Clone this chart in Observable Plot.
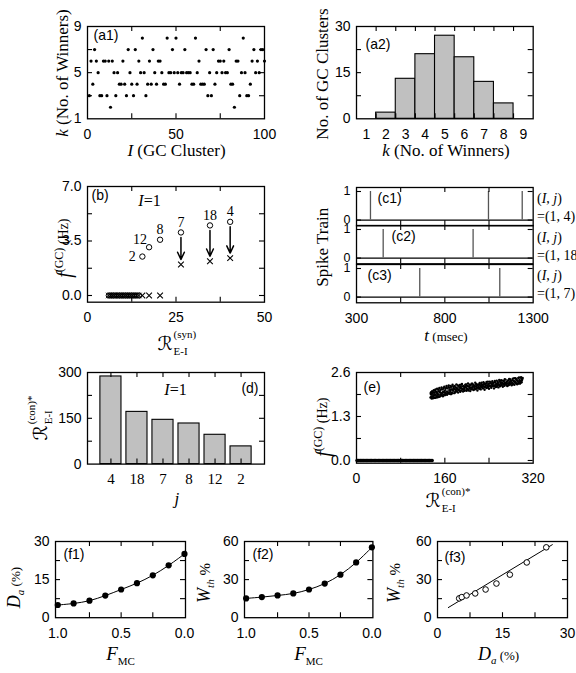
<!DOCTYPE html>
<html><head><meta charset="utf-8">
<script src="https://cdn.jsdelivr.net/npm/d3@7"></script>
<script src="https://cdn.jsdelivr.net/npm/@observablehq/plot@0.6"></script>
<style>
body{margin:0;background:#fff}
#fig{position:relative;width:576px;height:673px;overflow:hidden;background:#fff}
#fig svg{position:absolute;overflow:visible}
</style></head><body><div id="fig"></div>
<script>
// ---------- data ----------
// (a1) number of winners k for each GC cluster I = 1..100
const a1K = [3,6,4,7,6,5,3,3,6,6, 3,6,2,6,5,3,5,4,4,6, 4,3,7,5,4,3,7,4,6,5,
             8,5,3,4,6,4,7,5,4,6, 6,5,4,4,8,5,5,7,5,8, 5,4,5,5,7,5,5,5,4,4,
             8,5,6,4,4,4,7,3,5,3, 7,4,5,6,6,5,6,5,5,7, 4,4,2,6,6,3,5,8,5,3,
             3,4,6,7,5,6,5,7,7,6];
// (a2) histogram
const a2K = [1,2,3,4,5,6,7,8,9];
const a2N = [0,2,13,21,27,20,12,5,0];
// (b)
const bWinJ = ["2","12","8","7","18","4"];
const bWinR = [15.5,17.4,20.5,26.4,34.6,40.3];
const bWinBefore = [2.5,3.1,3.58,4.05,4.5,4.73];
const bWinAfter = [0,0,0,1.99,2.2,2.4];
const bLoserR = [6.0,6.5,7.1,7.6,8.2,8.8,9.3,9.9,10.5,11.0,11.6,12.2,12.7,13.3,13.9,14.5];
// (c) spike times (msec)
const c1Spikes = [379,1047,1238];
const c2Spikes = [451,960];
const c3Spikes = [658,1111];
const cJ = ["4","18","7"];
// (d)
const dJ = ["4","18","7","8","12","2"];
const dR = [287,171,145,133,96,58];
// (e)
const eZeroR = [1,2.5,4,6,7.5,9,11,12.5,14,16,18,19.5,21,23,25,26.5,28,30,32,33.5,35,37,39,40.5,42,44,46,47.5,49,51,53,54.5,56,58,60,61.5,63,65,67,68.5,70,72,74,75.5,77,79,81,82.5,84,86,88,89.5,91,93,95,96.5,98,100,102,103.5,105,107,109,110.5,112,114,116,117.5,119,121,123,124.5,126,128,130,131.5,133,135,137];
const eCloud = [[134,1.86],[135,1.95],[135,2.02],[136,1.83],[137,1.9],[137,2.05],[138,1.97],[139,1.88],[140,2.08],[140,1.93],
[141,2.0],[142,1.85],[143,2.1],[143,1.95],[144,2.03],[145,1.9],[146,2.12],[147,1.98],[147,1.87],[148,2.05],
[149,1.94],[150,2.14],[151,2.01],[151,1.89],[152,2.08],[153,1.96],[154,2.16],[155,2.0],[155,1.92],[156,2.1],
[157,2.03],[158,1.95],[159,2.18],[160,2.06],[160,1.93],[161,2.12],[162,1.99],[163,2.2],[164,2.04],[164,1.94],
[165,2.13],[166,2.01],[167,2.22],[168,2.08],[168,1.97],[169,2.15],[170,2.03],[171,1.96],[172,2.18],[173,2.1],
[173,2.0],[174,2.24],[175,2.06],[176,2.14],[177,1.99],[178,2.2],[179,2.09],[179,2.02],[180,2.16],[181,2.25],
[182,2.05],[183,2.12],[184,2.01],[185,2.19],[186,2.08],[187,2.23],[188,2.13],[188,2.03],[189,2.17],[190,2.07],
[191,2.26],[192,2.11],[193,2.04],[194,2.2],[195,2.14],[196,2.08],[197,2.24],[198,2.16],[199,2.06],[200,2.21],
[201,2.12],[202,2.28],[203,2.09],[204,2.18],[205,2.13],[206,2.05],[207,2.23],[208,2.16],[209,2.1],[210,2.27],
[211,2.19],[212,2.08],[213,2.22],[214,2.14],[215,2.3],[216,2.11],[217,2.2],[218,2.15],[219,2.07],[220,2.25],
[221,2.18],[222,2.12],[223,2.29],[224,2.21],[225,2.1],[226,2.26],[227,2.16],[228,2.23],[229,2.13],[230,2.31],
[231,2.19],[232,2.09],[233,2.25],[234,2.17],[235,2.28],[236,2.14],[237,2.22],[238,2.33],[239,2.18],[240,2.12],
[241,2.27],[242,2.2],[243,2.3],[244,2.15],[245,2.24],[246,2.34],[247,2.19],[248,2.27],[249,2.13],[250,2.22],
[251,2.31],[252,2.17],[253,2.26],[254,2.36],[255,2.21],[256,2.29],[257,2.16],[258,2.24],[259,2.33],[260,2.19],
[261,2.28],[262,2.37],[263,2.22],[264,2.3],[265,2.18],[266,2.26],[267,2.35],[268,2.21],[269,2.29],[270,2.39],
[271,2.24],[272,2.32],[273,2.2],[274,2.28],[275,2.37],[276,2.23],[277,2.31],[278,2.4],[279,2.26],[280,2.34],
[281,2.22],[282,2.3],[283,2.42],[284,2.27],[285,2.35],[286,2.24],[287,2.32],[288,2.43],[289,2.28],[290,2.37],
[291,2.25],[292,2.33],[293,2.44],[294,2.3],[295,2.38],[296,2.27],[297,2.35],[298,2.46],[299,2.31],[300,2.4]];
const eCloud2 = [[134.5,1.98],[135.5,1.88],[136.5,2.0],[138.5,1.84],[139.5,2.02],[141.5,1.92],[142.5,2.06],[144.5,1.86],[145.5,2.0],[146.5,1.94],
[148.5,2.1],[149.5,1.88],[150.5,2.04],[152.5,1.92],[153.5,2.11],[154.5,1.97],[156.5,1.9],[157.5,2.14],[158.5,2.02],[160.5,2.0],
[161.5,1.96],[162.5,2.15],[165.5,1.98],[166.5,2.17],[167.5,2.0],[169.5,2.07],[170.5,2.2],[171.5,2.1],[172.5,1.98],[174.5,2.09],
[175.5,2.19],[177.5,2.12],[178.5,2.02],[180.5,2.08],[181.5,2.14],[183.5,2.22],[184.5,2.09],[186.5,2.16],[187.5,2.05],[189.5,2.24],
[190.5,2.13],[192.5,2.19],[193.5,2.1],[195.5,2.06],[196.5,2.18],[198.5,2.25],[199.5,2.12],[201.5,2.2],[202.5,2.07],[204.5,2.24],
[205.5,2.16],[207.5,2.11],[208.5,2.27],[210.5,2.15],[211.5,2.23],[213.5,2.1],[214.5,2.19],[216.5,2.26],[217.5,2.13],[219.5,2.22],
[220.5,2.16],[222.5,2.25],[223.5,2.14],[225.5,2.2],[226.5,2.3],[228.5,2.18],[229.5,2.24],[231.5,2.28],[232.5,2.16],[234.5,2.22],
[235.5,2.32],[237.5,2.17],[238.5,2.26],[240.5,2.21],[241.5,2.33],[243.5,2.19],[244.5,2.28],[246.5,2.23],[247.5,2.3],[249.5,2.2],
[250.5,2.35],[252.5,2.24],[253.5,2.18],[255.5,2.32],[256.5,2.25],[258.5,2.38],[259.5,2.22],[261.5,2.31],[262.5,2.25],[264.5,2.36],
[265.5,2.28],[267.5,2.24],[268.5,2.4],[270.5,2.3],[271.5,2.26],[273.5,2.35],[274.5,2.22],[276.5,2.41],[277.5,2.29],[279.5,2.36],
[280.5,2.28],[282.5,2.38],[283.5,2.25],[285.5,2.43],[286.5,2.33],[288.5,2.29],[289.5,2.4],[291.5,2.36],[292.5,2.27],[294.5,2.45],
[295.5,2.34],[297.5,2.3],[298.5,2.42],[299.5,2.36],[301,2.44]];
// (f)
const fF = [1.0,0.875,0.75,0.625,0.5,0.375,0.25,0.125,0.0];
const fDa = [5.0,5.6,6.7,8.7,11.1,13.6,16.7,20.6,25.1];
const fWth = [15.2,16.2,17.5,19.1,22.2,26.9,33.9,43.5,55.4];
const f3FitDa = [2.5,26.5];
const f3FitW = [8,57.5];

// ---------- helpers ----------
const fig = document.getElementById("fig");
const sans = '"Liberation Sans", Arial, sans-serif';
const serif = '"Liberation Serif", "Times New Roman", serif';

function panel({L, T, W, H, ml=45, mr=15, mt=12, mb=30, x, y, marks, fs = 14}) {
  const svg = Plot.plot({
    width: W + ml + mr, height: H + mt + mb,
    marginLeft: ml, marginRight: mr, marginTop: mt, marginBottom: mb,
    x: {label: null, ...x}, y: {label: null, ...y},
    style: {fontFamily: sans, fontSize: fs + "px", background: "transparent", color: "#000", overflow: "visible"},
    marks: marks.filter(Boolean)
  });
  svg.style.left = (L - ml) + "px";
  svg.style.top = (T - mt) + "px";
  fig.append(svg);
}
function ticksIn(xt, yt, W, H, len = 5) {
  const s = {stroke: "#000", strokeWidth: 1.1};
  const m = [];
  if (xt) m.push(Plot.ruleX(xt, {x: d => d, insetTop: H - len, ...s}), Plot.ruleX(xt, {x: d => d, insetBottom: H - len, ...s}));
  if (yt) m.push(Plot.ruleY(yt, {y: d => d, insetRight: W - len, ...s}), Plot.ruleY(yt, {y: d => d, insetLeft: W - len, ...s}));
  return m;
}
function plab(t, anchor, dx, dy) {
  return Plot.text([t], {text: d => d, frameAnchor: anchor, textAnchor: anchor.includes("right") ? "end" : "start",
    lineAnchor: "top", dx, dy, fontSize: 14, fill: "#000"});
}
const intFmt = d3.format("d");
const ax = (v, o = {}) => Plot.axisX(v, {tickSize: 0, tickPadding: 10, label: null, ...o});
const ay = (v, o = {}) => Plot.axisY(v, {tickSize: 0, tickPadding: 6, label: null, ...o});
const frame = () => Plot.frame({stroke: "#000", strokeWidth: 1.3});

// ---------- (a1) ----------
panel({L: 87.3, T: 26, W: 177, H: 92.3, x: {domain: [0, 100]}, y: {domain: [1, 9]}, marks: [
  frame(), ...ticksIn([25, 50, 75], [3, 5, 7], 177, 92.3),
  Plot.dot(a1K, {x: (d, i) => i + 1, y: d => d, r: 1.6, fill: "#000"}),
  ax([0, 50, 100]), ay([1, 5, 9]), plab("(a1)", "top-left", 6, 4)
]});
// ---------- (a2) ----------
const a2Data = a2K.map((k, i) => ({k, n: a2N[i]})).filter(d => d.n > 0);
panel({L: 356, T: 26, W: 176.7, H: 92.3, x: {domain: [0.5, 9.5]}, y: {domain: [0, 30]}, marks: [
  Plot.rectY(a2Data, {x1: d => d.k - 0.5, x2: d => d.k + 0.5, y1: 0, y2: "n", fill: "#c0c0c0", stroke: "#000", strokeWidth: 1.1}),
  frame(), ...ticksIn([1.5, 2.5, 3.5, 4.5, 5.5, 6.5, 7.5, 8.5], [7.5, 15, 22.5], 176.7, 92.3),
  ax(a2K), ay([0, 15, 30]), plab("(a2)", "top-left", 9, 13)
]});
// ---------- (b) ----------
const bIdx = bWinR.map((_, i) => i);
panel({L: 87.3, T: 186, W: 177, H: 115.7, x: {domain: [0, 50]}, y: {domain: [-0.43, 7]}, marks: [
  frame(), ...ticksIn([12.5, 25, 37.5], [0, 1.75, 3.5, 5.25], 177, 115.7),
  Plot.dot(bLoserR, {x: d => d, y: 0, r: 2.6, stroke: "#000", strokeWidth: 1}),
  Plot.dot(bLoserR, {x: d => d, y: 0, r: 2.6, symbol: "times", stroke: "#000", strokeWidth: 1}),
  Plot.dot(bIdx, {x: i => bWinR[i], y: i => bWinBefore[i], r: 2.7, stroke: "#000", strokeWidth: 1}),
  Plot.dot(bIdx, {x: i => bWinR[i], y: i => bWinAfter[i], r: 2.7, symbol: "times", stroke: "#000", strokeWidth: 1.1}),
  Plot.arrow(bIdx.filter(i => bWinAfter[i] > 0), {x1: i => bWinR[i], y1: i => bWinBefore[i], x2: i => bWinR[i], y2: i => bWinAfter[i],
    insetStart: 5, insetEnd: 5, headLength: 8, headAngle: 50, strokeWidth: 1.5, stroke: "#000"}),
  Plot.text([0], {x: i => bWinR[i], y: i => bWinBefore[i], text: i => bWinJ[i], dx: -10, fontFamily: serif, fontSize: 14, fill: "#000"}),
  Plot.text([1], {x: i => bWinR[i], y: i => bWinBefore[i], text: i => bWinJ[i], dx: -9, dy: -8, fontFamily: serif, fontSize: 14, fill: "#000"}),
  Plot.text([2, 3, 4, 5], {x: i => bWinR[i], y: i => bWinBefore[i], text: i => bWinJ[i], dy: -10, fontFamily: serif, fontSize: 14, fill: "#000"}),
  ax([0, 25, 50]), ay([0, 3.5, 7], {tickFormat: d => d.toFixed(1)}), plab("(b)", "top-left", 4, 4)
]});
// ---------- (c1)-(c3) ----------
const cTops = [187, 225.3, 263.6];
[c1Spikes, c2Spikes, c3Spikes].forEach((sp, s) => {
  panel({L: 356, T: cTops[s], W: 176.7, H: 38.3, x: {domain: [300, 1300], ...(s < 2 ? {axis: null} : {})}, y: {domain: [-0.2, 1.14]}, marks: [
    Plot.ruleY([0], {stroke: "#000", strokeWidth: 1.3}),
    Plot.ruleX(sp, {x: d => d, y1: 0, y2: 1, stroke: "#555", strokeWidth: 1.3}),
    frame(), ...ticksIn([550, 800, 1050], [0, 1], 176.7, 38.3),
    s === 2 ? ax([300, 800, 1300], {tickFormat: intFmt}) : null,
    ay([0, 1], {fontSize: 12.5}),
    plab(["(c1)", "(c2)", "(c3)"][s], "top-left", [21, 35, 11][s], 6)
  ]});
});
// ---------- (d) ----------
const dIdx = dJ.map((_, i) => i + 1);
panel({L: 87.3, T: 371.7, W: 177, H: 91.6, x: {domain: [0.1, 6.9]}, y: {domain: [0, 300]}, marks: [
  Plot.rectY(dIdx, {x1: i => i - 0.405, x2: i => i + 0.405, y1: 0, y2: i => dR[i - 1], fill: "#c0c0c0", stroke: "#000", strokeWidth: 1.1}),
  frame(), ...ticksIn(dIdx, [75, 150, 225], 177, 91.6),
  ax(dIdx, {tickFormat: i => dJ[i - 1], fontFamily: serif, fontSize: 15, tickPadding: 9}),
  ay([0, 150, 300]), plab("(d)", "top-right", -6, 11)
]});
// ---------- (e) ----------
panel({L: 356, T: 372, W: 176.7, H: 90.7, x: {domain: [0, 320]}, y: {domain: [-0.08, 2.6]}, marks: [
  frame(), ...ticksIn([80, 160, 240], [0, 0.65, 1.3, 1.95], 176.7, 90.7),
  Plot.dot(eZeroR, {x: d => d, y: 0, r: 1.8, fill: "#000"}),
  Plot.dot(eCloud, {x: d => d[0], y: d => d[1], r: 1.2, fill: "#000"}),
  Plot.dot(eCloud2, {x: d => d[0], y: d => d[1], r: 1.2, fill: "#000"}),
  ax([0, 160, 320]), ay([0, 1.3, 2.6], {tickFormat: d => d.toFixed(1)}), plab("(e)", "top-left", 7, 10)
]});
// ---------- (f1)-(f3) ----------
const fIdx = fF.map((_, i) => i);
panel({L: 55, T: 540.5, W: 130, H: 76.2, ml: 30, x: {domain: [1.018, -0.008]}, y: {domain: [0, 30]}, marks: [
  frame(), ...ticksIn([0.75, 0.5, 0.25], [7.5, 15, 22.5], 130, 76.2),
  Plot.line(fIdx, {x: i => fF[i], y: i => fDa[i], curve: "catmull-rom", stroke: "#000", strokeWidth: 1}),
  Plot.dot(fIdx, {x: i => fF[i], y: i => fDa[i], r: 3.1, fill: "#000"}),
  ax([1, 0.5, 0], {tickFormat: d => d.toFixed(1)}), ay([0, 15, 30]), plab("(f1)", "top-left", 8, 8)
]});
panel({L: 244.3, T: 540.5, W: 128.4, H: 76.2, ml: 30, x: {domain: [1.013, -0.008]}, y: {domain: [0, 60]}, marks: [
  frame(), ...ticksIn([0.75, 0.5, 0.25], [15, 30, 45], 128.4, 76.2),
  Plot.line(fIdx, {x: i => fF[i], y: i => fWth[i], curve: "catmull-rom", stroke: "#000", strokeWidth: 1}),
  Plot.dot(fIdx, {x: i => fF[i], y: i => fWth[i], r: 3.1, fill: "#000"}),
  ax([1, 0.5, 0], {tickFormat: d => d.toFixed(1)}), ay([0, 30, 60]), plab("(f2)", "top-left", 8, 8)
]});
panel({L: 436.7, T: 540.5, W: 130, H: 76.2, ml: 30, x: {domain: [0, 30]}, y: {domain: [0, 60]}, marks: [
  frame(), ...ticksIn([7.5, 15, 22.5], [15, 30, 45], 130, 76.2),
  Plot.line([0, 1], {x: i => f3FitDa[i], y: i => f3FitW[i], stroke: "#000", strokeWidth: 1}),
  Plot.dot(fIdx, {x: i => fDa[i], y: i => fWth[i], r: 2.8, stroke: "#000", fill: "#fff", strokeWidth: 1}),
  ax([0, 15, 30]), ay([0, 30, 60]), plab("(f3)", "top-left", 7, 11)
]});

// ---------- axis titles (SVG text overlay) ----------
const NS = "http://www.w3.org/2000/svg";
const ov = document.createElementNS(NS, "svg");
ov.setAttribute("width", 576); ov.setAttribute("height", 673);
ov.style.left = "0px"; ov.style.top = "0px";
fig.append(ov);
// segs: {t, i (italic), s (size), o (baseline offset), f (family), mark/stack (stacked sup/sub)}
function label(segs, cx, cy, {rot = 0, align = "center", size = 17, family = serif} = {}) {
  const g = document.createElementNS(NS, "g");
  const txt = document.createElementNS(NS, "text");
  txt.setAttribute("font-family", family);
  txt.setAttribute("font-size", size);
  txt.setAttribute("fill", "#000");
  g.append(txt); ov.append(g);
  let base = 0, stackX = null;
  for (const sg of segs) {
    const ts = document.createElementNS(NS, "tspan");
    ts.textContent = sg.t;
    if (sg.i) ts.setAttribute("font-style", "italic");
    if (sg.s) ts.setAttribute("font-size", sg.s);
    if (sg.f) ts.setAttribute("font-family", sg.f);
    const o = sg.o || 0;
    if (sg.stack) ts.setAttribute("x", stackX);
    else if (sg.mark) stackX = txt.getComputedTextLength() + 1;
    if (sg.mark) ts.setAttribute("x", stackX);
    ts.setAttribute("dy", o - base);
    base = o;
    txt.append(ts);
  }
  const bb = g.getBBox();
  const ox = align === "left" ? -bb.x : -(bb.x + bb.width / 2);
  const oy = -(bb.y + bb.height / 2);
  g.setAttribute("transform", `translate(${cx},${cy}) rotate(${rot}) translate(${ox},${oy})`);
}
const R = (sup, sub) => [
  {t: "ℛ", f: '"DejaVu Sans", serif', s: 19},
  {t: sup, s: 11, o: -12, mark: true},
  {t: sub, s: 11, o: 5, stack: true}
];
const fGC = [{t: "f", i: true, s: 20}, {t: "(GC)", s: 12, o: -8}, {t: " (Hz)", s: 14, o: -3}];
const Da = [{t: "D", i: true, s: 18}, {t: "a", i: true, s: 11, o: 4}, {t: " (%)", s: 13, o: 0}];
const Wth = [{t: "W", i: true, s: 18}, {t: "th", i: true, s: 11, o: 4}, {t: " %", s: 15, o: 0}];
const FMC = [{t: "F", i: true, s: 19}, {t: "MC", s: 11, o: 5}];

label([{t: "I", i: true}, {t: " (GC Cluster)"}], 176, 150);
label([{t: "k", i: true}, {t: " (No. of Winners)"}], 62, 73, {rot: -90});
label([{t: "No. of GC Clusters"}], 322, 74, {rot: -90});
label([{t: "k", i: true}, {t: " (No. of Winners)"}], 446, 150);
label([{t: "I", i: true}, {t: "=1"}], 149, 200, {size: 16});
label(fGC, 64, 248, {rot: -90});
label(R("(syn)", "E-I"), 177, 342);
label([{t: "Spike Train"}], 322, 247, {rot: -90});
label([{t: "t", i: true}, {t: " (msec)", s: 13}], 446, 335);
cTops.forEach((T, s) => {
  label([{t: "("}, {t: "I", i: true}, {t: ", "}, {t: "j", i: true}, {t: ")"}], 537, T + 12.3, {align: "left", size: 14});
  label([{t: `=(1, ${cJ[s]})`}], 537, T + 30.3, {align: "left", size: 14});
});
label(R("(con)*", "E-I"), 39, 418, {rot: -90});
label([{t: "I", i: true}, {t: "=1"}], 175, 389, {size: 16});
label([{t: "j", i: true}], 176, 498);
label(fGC, 323, 427, {rot: -90});
label(R("(con)*", "E-I"), 448, 499);
label(Da, 15, 588, {rot: -90});
label(FMC, 120, 655);
label(Wth, 205, 583, {rot: -90});
label(FMC, 308, 655);
label(Wth, 395, 583, {rot: -90});
label(Da, 498, 655);
</script></body></html>
